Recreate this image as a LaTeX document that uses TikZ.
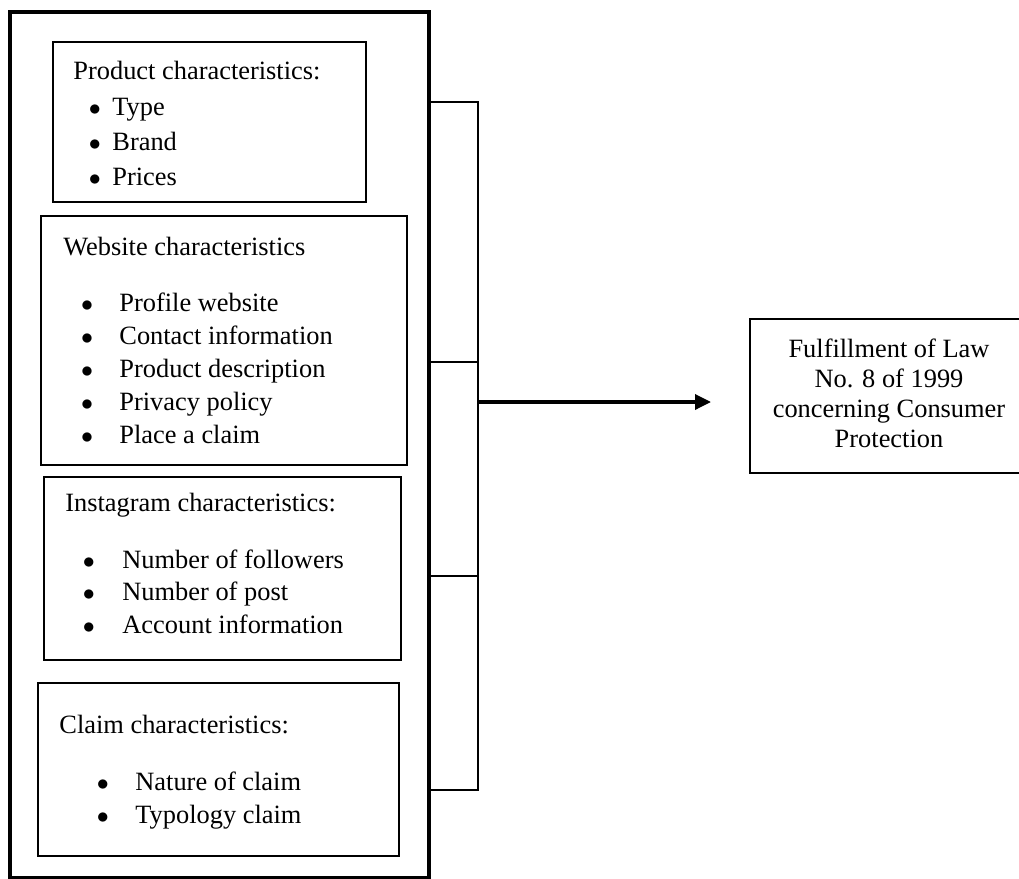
\documentclass[tikz,border=0pt]{standalone}
\usepackage{fontspec}
\setmainfont{Liberation Serif}
\usetikzlibrary{arrows.meta,fit}
\tikzset{
  outerbox/.style={draw,line width=2pt,inner sep=0pt},
  catbox/.style={draw,line width=0.8pt,inner sep=0pt},
  head/.style={inner sep=0pt,anchor=base west,font=\fontsize{13.2}{15}\selectfont},
  dot/.style={inner sep=0pt,anchor=base,font=\fontsize{12}{15}\selectfont},
  link/.style={line width=1pt},
  flow/.style={line width=1.7pt,-{Triangle[length=8pt,width=7.5pt]}}
}
\begin{document}
\begin{tikzpicture}[x=0.5pt,y=-0.5pt]
  \useasboundingbox (0,0) rectangle (1019,879);
  \clip (0,0) rectangle (1019,879);
  % frame and the four groups
  \node[outerbox,fit={(10,12) (429,878)}] (frame) {};
  \node[catbox,fit={(53,42) (366,202)}] (product) {};
  \node[catbox,fit={(41,216) (407,465)}] (website) {};
  \node[catbox,fit={(44,477) (401,660)}] (instagram) {};
  \node[catbox,fit={(38,683) (399,856)}] (claim) {};
  % product
  \node[head] (producthead) at (73,79) {Product characteristics:};
  \foreach \t [count=\i] in {Type,Brand,Prices} {
    \node[dot] (productdot\i) at (95,{115+35*(\i-1)}) {$\bullet$};
    \node[head] (productitem\i) at (112,{115+35*(\i-1)}) {\t};
  }
  % website
  \node[head] (websitehead) at (63,255) {Website characteristics};
  \foreach \t [count=\i] in {Profile website,Contact information,Product description,Privacy policy,Place a claim} {
    \node[dot] (websitedot\i) at (87,{311+33*(\i-1)}) {$\bullet$};
    \node[head] (websiteitem\i) at (119,{311+33*(\i-1)}) {\t};
  }
  % instagram
  \node[head] (instagramhead) at (65,511) {Instagram characteristics:};
  \foreach \t [count=\i] in {Number of followers,Number of post,Account information} {
    \node[dot] (instagramdot\i) at (89,{568+32.5*(\i-1)}) {$\bullet$};
    \node[head] (instagramitem\i) at (122,{568+32.5*(\i-1)}) {\t};
  }
  % claim
  \node[head] (claimhead) at (59,733) {Claim characteristics:};
  \foreach \t [count=\i] in {Nature of claim,Typology claim} {
    \node[dot] (claimdot\i) at (103,{790+33*(\i-1)}) {$\bullet$};
    \node[head] (claimitem\i) at (135,{790+33*(\i-1)}) {\t};
  }
  % outcome
  \node[catbox,fit={(750,319) (1028,473)}] (law) {};
  \node[inner sep=0pt,align=center,font=\fontsize{13.2}{15}\selectfont] (lawtext) at (889,393)
    {Fulfillment of Law\\No. 8 of 1999\\concerning Consumer\\Protection};
  % bracket and arrow
  \coordinate (jtop) at (478,102);
  \coordinate (jmid) at (478,362);
  \coordinate (jlow) at (478,576);
  \coordinate (jbot) at (478,790);
  \coordinate (jout) at (478,402);
  \coordinate (tip) at (711,402);
  \draw[link] (frame.east |- jtop) -- (jtop) -- (jbot) -- (frame.east |- jbot);
  \draw[link] (frame.east |- jmid) -- (jmid);
  \draw[link] (frame.east |- jlow) -- (jlow);
  \draw[flow] (jout) -- (tip);
\end{tikzpicture}
\end{document}
